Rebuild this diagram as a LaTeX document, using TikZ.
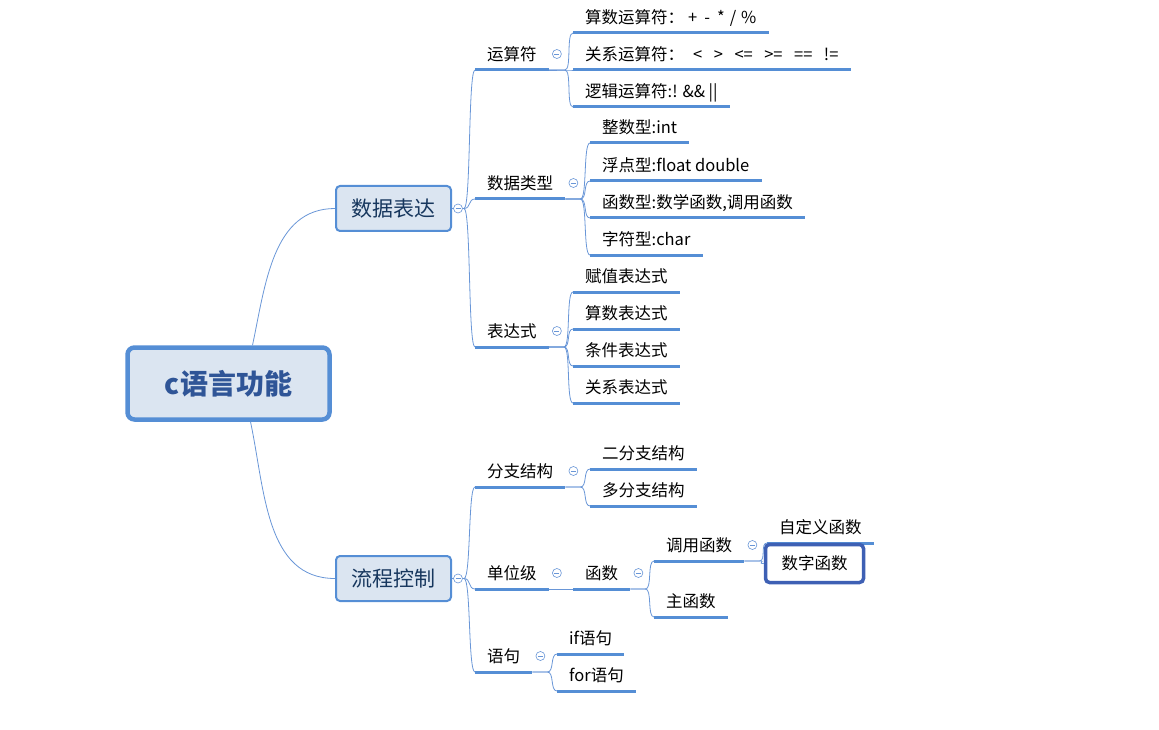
\documentclass[tikz,border=0pt]{standalone}
\usepackage{fontspec}
\setmainfont{Noto Sans CJK SC}
\usetikzlibrary{positioning,calc}
\definecolor{mapBlue}{RGB}{85,142,213}
\definecolor{mapLight}{RGB}{219,229,241}
\definecolor{mapLine}{RGB}{105,150,215}
\definecolor{mapNavy}{RGB}{23,55,94}
\definecolor{mapDeep}{RGB}{47,85,151}
\definecolor{mapSel}{RGB}{62,96,180}

\begin{document}
\begin{tikzpicture}[x=1pt, y=-1pt,
    root/.style={rectangle, rounded corners=7pt, draw=mapBlue, fill=mapLight, line width=4.5pt,
                 minimum width=202pt, minimum height=72pt, font=\fontsize{28}{32}\selectfont\bfseries,
                 text=mapDeep},
    main/.style={rectangle, rounded corners=4pt, draw=mapBlue, fill=mapLight, line width=2pt,
                 minimum width=115pt, minimum height=45pt, font=\fontsize{21}{24}\selectfont,
                 text=mapNavy},
    uline/.style={mapBlue, line width=3pt},
    topic/.style={anchor=south west, inner xsep=12pt, inner ysep=0pt, minimum height=31pt,
                  text height=16pt, text depth=3pt, font=\fontsize{16.5}{19}\selectfont,
                  append after command={(\tikzlastnode.south west) edge[uline] (\tikzlastnode.south east)}},
    sel/.style={rectangle, rounded corners=4pt, draw=mapSel, fill=white, line width=3.5pt,
                minimum width=98pt, minimum height=38pt, font=\fontsize{16.5}{19}\selectfont},
    conn/.style={mapLine, line width=0.8pt},
    lnk/.style={to path={.. controls +(7pt,0) and +(-7pt,0) .. (\tikztotarget)}},
    fold/.style={circle, draw=mapLine, fill=white, line width=0.6pt, minimum size=9pt, inner sep=0pt,
                 path picture={\draw[mapLine, line width=0.6pt]
                   ([xshift=-2.5pt]path picture bounding box.center) --
                   ([xshift=2.5pt]path picture bounding box.center);}}
  ]
  \useasboundingbox (0,0) rectangle (1159,730);

  \node[root] (root) at (228.5,383.5) {c语言功能};
  \node[main] (sjbd) at (393.5,208.5) {数据表达};
  \node[main] (lckz) at (393.5,578.5) {流程控制};

  \draw[conn] ($(root.north)+(24pt,0)$) to[out=78, in=180] (sjbd.west);
  \draw[conn] ($(root.south)+(22pt,0)$) to[out=-78, in=180] (lckz.west);

  % 数据表达
  \node[topic] (ysf)  at (475,70)  {运算符};
  \node[topic] (sjlx) at (475,199) {数据类型};
  \node[topic] (bds)  at (475,347) {表达式};

  \node[topic] (ss)  at (573,33)  {算数运算符：\hspace{4pt}+\hspace{7pt}-\hspace{7pt}*\hspace{5pt}/\hspace{5pt}\%};
  \node[topic] (gx)  at (573,70)  {关系运算符：\hspace{9pt}<\hspace{11.5pt}>\hspace{11.5pt}<=\hspace{11.5pt}>=\hspace{11.5pt}==\hspace{11.5pt}!=};
  \node[topic] (lj)  at (573,107) {逻辑运算符:! \&\& ||};

  \node[topic] (zs)  at (590,143) {整数型:int};
  \node[topic] (fd)  at (590,181) {浮点型:float double};
  \node[topic] (hs)  at (590,218) {函数型:数学函数,调用函数};
  \node[topic] (zf)  at (590,255) {字符型:char};

  \node[topic] (fz)  at (573,292) {赋值表达式};
  \node[topic] (ssb) at (573,329) {算数表达式};
  \node[topic] (tj)  at (573,366) {条件表达式};
  \node[topic] (gxb) at (573,403) {关系表达式};

  \foreach \c in {ysf,sjlx,bds}
    \draw[conn] (sjbd.east) -- ++(12pt,0) to[lnk] (\c.south west);
  \foreach \c in {ss,gx,lj}
    \draw[conn] (ysf.south east) -- ++(16pt,0) to[lnk] (\c.south west);
  \foreach \c in {zs,fd,hs,zf}
    \draw[conn] (sjlx.south east) -- ++(15pt,0) to[lnk] (\c.south west);
  \foreach \c in {fz,ssb,tj,gxb}
    \draw[conn] (bds.south east) -- ++(15pt,0) to[lnk] (\c.south west);

  % 流程控制
  \node[topic] (fzjg) at (475,487) {分支结构};
  \node[topic] (dwj)  at (475,589) {单位级};
  \node[topic] (yj)   at (475,672) {语句};

  \node[topic] (efz) at (590,469) {二分支结构};
  \node[topic] (dfz) at (590,506) {多分支结构};

  \node[topic] (hanshu) at (573,589) {函数};
  \node[topic] (dyhs)   at (654,561) {调用函数};
  \node[topic] (zhs)    at (654,617) {主函数};
  \node[topic] (zdy)    at (767,543) {自定义函数};
  \node[sel]   (szhs)   at (814.5,563.5) {数字函数};

  \node[topic] (ifyj)  at (557,654) {if语句};
  \node[topic] (foryj) at (557,691) {for语句};

  \foreach \c in {fzjg,dwj,yj}
    \draw[conn] (lckz.east) -- ++(12pt,0) to[lnk] (\c.south west);
  \foreach \c in {efz,dfz}
    \draw[conn] (fzjg.south east) -- ++(15pt,0) to[lnk] (\c.south west);
  \draw[conn] (dwj.south east) -- (hanshu.south west);
  \foreach \c in {dyhs,zhs}
    \draw[conn] (hanshu.south east) -- ++(15pt,0) to[lnk] (\c.south west);
  \draw[conn] (dyhs.south east) -- ++(15pt,0) to[lnk] (zdy.south west);
  \draw[conn] (dyhs.south east) -- ++(15pt,0) to[lnk] (szhs.west);
  \foreach \c in {ifyj,foryj}
    \draw[conn] (yj.south east) -- ++(15pt,0) to[lnk] (\c.south west);

  % fold markers
  \node[fold] (f-sjbd) at ([xshift=6pt]sjbd.east) {};
  \node[fold] (f-lckz) at ([xshift=6pt]lckz.east) {};
  \foreach \n in {ysf,sjlx,bds,fzjg,dwj,hanshu,dyhs,yj}
    \node[fold] (f-\n) at ([shift={(8pt,16pt)}]\n.south east) {};
\end{tikzpicture}
\end{document}
